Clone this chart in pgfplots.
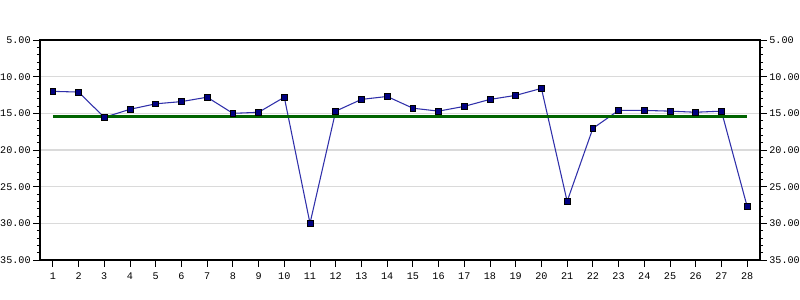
\documentclass[border=0pt]{standalone}
\usepackage{fontspec}
\setmainfont{Liberation Mono}
\usepackage{pgfplots}
\pgfplotsset{compat=1.18}
\definecolor{navy}{RGB}{0,0,128}
\definecolor{lineblue}{RGB}{48,48,170}
\definecolor{dgreen}{RGB}{0,100,0}
\definecolor{gridgray}{RGB}{218,218,218}
\pgfplotstableread{
x y
1 12.0
2 12.1
3 15.55
4 14.45
5 13.7
6 13.4
7 12.8
8 15.0
9 14.86
10 12.8
11 30.0
12 14.7
13 13.1
14 12.7
15 14.3
16 14.7
17 14.05
18 13.1
19 12.55
20 11.6
21 27.0
22 17.05
23 14.6
24 14.6
25 14.7
26 14.85
27 14.7
28 27.7
}\datatable
\pgfplotstableread{
x y
1 15.45
28 15.45
}\greenline
\begin{document}
\begin{tikzpicture}
\path[use as bounding box] (0pt,0pt) rectangle (600pt,225pt);
\pgfplotsset{
  commonaxis/.style={
    at={(30pt,30pt)}, anchor=south west,
    scale only axis, width=540pt, height=165pt,
    xmin=0.5, xmax=28.5, ymin=5, ymax=35,
    y dir=reverse,
    xtick={1,...,28},
    ytick={5,10,...,35},
    minor y tick num=4,
    tick align=outside,
    major tick length=5pt,
    minor tick length=2.25pt,
    tick style={black, line width=0.6pt},
    axis line style={black, line width=0.8pt},
    /pgf/number format/assume math mode=true,
    yticklabel style={/pgf/number format/fixed, /pgf/number format/fixed zerofill, /pgf/number format/precision=2},
    ticklabel style={font=\fontsize{7.6}{9}\selectfont},
    xticklabel style={yshift=-1pt},
  }
}
\begin{axis}[commonaxis,
  ymajorgrids, grid style={gridgray, line width=0.8pt},
  ytick pos=left, xtick pos=bottom,
  yticklabel style={xshift=1.5pt},
]
\addplot[lineblue, line width=0.8pt, no marks] table[x=x,y=y]{\datatable};
\addplot[dgreen, line width=2.2pt, no marks] table[x=x,y=y]{\greenline};
\addplot[only marks, mark=square*, mark size=2.2pt, mark options={fill=navy, draw=black, line width=0.5pt}] table[x=x,y=y]{\datatable};
\end{axis}
\begin{axis}[commonaxis,
  axis x line=none,
  ytick pos=right, yticklabel pos=right,
  yticklabel style={xshift=-1.5pt},
]
\end{axis}
\end{tikzpicture}
\end{document}
